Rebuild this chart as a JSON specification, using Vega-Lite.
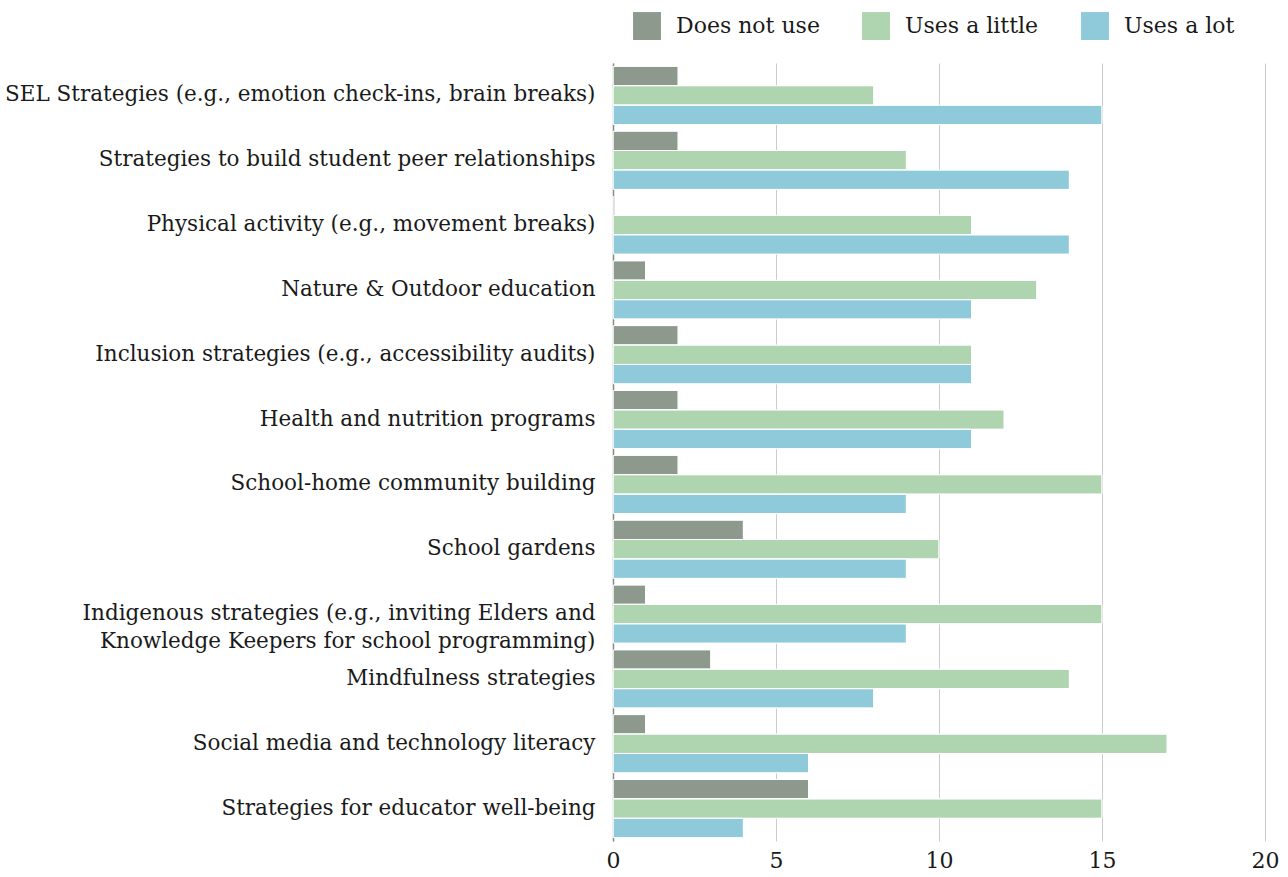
{
  "$schema": "https://vega.github.io/schema/vega-lite/v6.json",
  "width": 652,
  "height": 778,
  "autosize": {"type": "none"},
  "padding": {"left": 613, "top": 63, "right": 23, "bottom": 36},
  "background": "white",
  "config": {
    "view": {"stroke": null},
    "font": "DejaVu Serif"
  },
  "data": {
    "values": [
      {"strategy": "SEL Strategies (e.g., emotion check-ins, brain breaks)", "use": "Does not use", "count": 2},
      {"strategy": "SEL Strategies (e.g., emotion check-ins, brain breaks)", "use": "Uses a little", "count": 8},
      {"strategy": "SEL Strategies (e.g., emotion check-ins, brain breaks)", "use": "Uses a lot", "count": 15},
      {"strategy": "Strategies to build student peer relationships", "use": "Does not use", "count": 2},
      {"strategy": "Strategies to build student peer relationships", "use": "Uses a little", "count": 9},
      {"strategy": "Strategies to build student peer relationships", "use": "Uses a lot", "count": 14},
      {"strategy": "Physical activity (e.g., movement breaks)", "use": "Does not use", "count": 0},
      {"strategy": "Physical activity (e.g., movement breaks)", "use": "Uses a little", "count": 11},
      {"strategy": "Physical activity (e.g., movement breaks)", "use": "Uses a lot", "count": 14},
      {"strategy": "Nature & Outdoor education", "use": "Does not use", "count": 1},
      {"strategy": "Nature & Outdoor education", "use": "Uses a little", "count": 13},
      {"strategy": "Nature & Outdoor education", "use": "Uses a lot", "count": 11},
      {"strategy": "Inclusion strategies (e.g., accessibility audits)", "use": "Does not use", "count": 2},
      {"strategy": "Inclusion strategies (e.g., accessibility audits)", "use": "Uses a little", "count": 11},
      {"strategy": "Inclusion strategies (e.g., accessibility audits)", "use": "Uses a lot", "count": 11},
      {"strategy": "Health and nutrition programs", "use": "Does not use", "count": 2},
      {"strategy": "Health and nutrition programs", "use": "Uses a little", "count": 12},
      {"strategy": "Health and nutrition programs", "use": "Uses a lot", "count": 11},
      {"strategy": "School-home community building", "use": "Does not use", "count": 2},
      {"strategy": "School-home community building", "use": "Uses a little", "count": 15},
      {"strategy": "School-home community building", "use": "Uses a lot", "count": 9},
      {"strategy": "School gardens", "use": "Does not use", "count": 4},
      {"strategy": "School gardens", "use": "Uses a little", "count": 10},
      {"strategy": "School gardens", "use": "Uses a lot", "count": 9},
      {"strategy": "Indigenous strategies (e.g., inviting Elders and|Knowledge Keepers for school programming)", "use": "Does not use", "count": 1},
      {"strategy": "Indigenous strategies (e.g., inviting Elders and|Knowledge Keepers for school programming)", "use": "Uses a little", "count": 15},
      {"strategy": "Indigenous strategies (e.g., inviting Elders and|Knowledge Keepers for school programming)", "use": "Uses a lot", "count": 9},
      {"strategy": "Mindfulness strategies", "use": "Does not use", "count": 3},
      {"strategy": "Mindfulness strategies", "use": "Uses a little", "count": 14},
      {"strategy": "Mindfulness strategies", "use": "Uses a lot", "count": 8},
      {"strategy": "Social media and technology literacy", "use": "Does not use", "count": 1},
      {"strategy": "Social media and technology literacy", "use": "Uses a little", "count": 17},
      {"strategy": "Social media and technology literacy", "use": "Uses a lot", "count": 6},
      {"strategy": "Strategies for educator well-being", "use": "Does not use", "count": 6},
      {"strategy": "Strategies for educator well-being", "use": "Uses a little", "count": 15},
      {"strategy": "Strategies for educator well-being", "use": "Uses a lot", "count": 4}
    ]
  },
  "mark": {"type": "bar", "stroke": "white", "strokeWidth": 1, "cornerRadius": 1},
  "encoding": {
    "y": {
      "field": "strategy",
      "type": "nominal",
      "sort": null,
      "scale": {"paddingInner": 0.1, "paddingOuter": 0.05},
      "axis": {
        "title": null,
        "ticks": false,
        "domain": true,
        "domainColor": "#888888",
        "domainWidth": 1.5,
        "labelFont": "DejaVu Serif",
        "labelFontSize": 21.5,
        "labelColor": "#1a1a1a",
        "labelPadding": 18,
        "labelLimit": 620,
        "labelLineHeight": 28,
        "labelExpr": "split(datum.label, '|')"
      }
    },
    "yOffset": {"field": "use", "type": "nominal", "sort": ["Does not use", "Uses a little", "Uses a lot"]},
    "x": {
      "field": "count",
      "type": "quantitative",
      "scale": {"domain": [0, 20]},
      "axis": {
        "title": null,
        "values": [0, 5, 10, 15, 20],
        "ticks": false,
        "domain": false,
        "grid": true,
        "gridColor": "#cccccc",
        "gridWidth": 1,
        "labelFlush": false,
        "labelFont": "DejaVu Serif",
        "labelFontSize": 22,
        "labelColor": "#1a1a1a",
        "labelPadding": 9
      }
    },
    "color": {
      "field": "use",
      "type": "nominal",
      "sort": ["Does not use", "Uses a little", "Uses a lot"],
      "scale": {
        "domain": ["Does not use", "Uses a little", "Uses a lot"],
        "range": ["#8e998e", "#aed4b0", "#8ecad9"]
      },
      "legend": {
        "title": null,
        "orient": "none",
        "direction": "horizontal",
        "legendX": 20,
        "legendY": -51,
        "symbolType": "square",
        "symbolSize": 780,
        "symbolStrokeWidth": 0,
        "labelFont": "DejaVu Serif",
        "labelFontSize": 22,
        "labelColor": "#1a1a1a",
        "labelOffset": 15,
        "columnPadding": 42,
        "labelLimit": 300
      }
    }
  }
}
